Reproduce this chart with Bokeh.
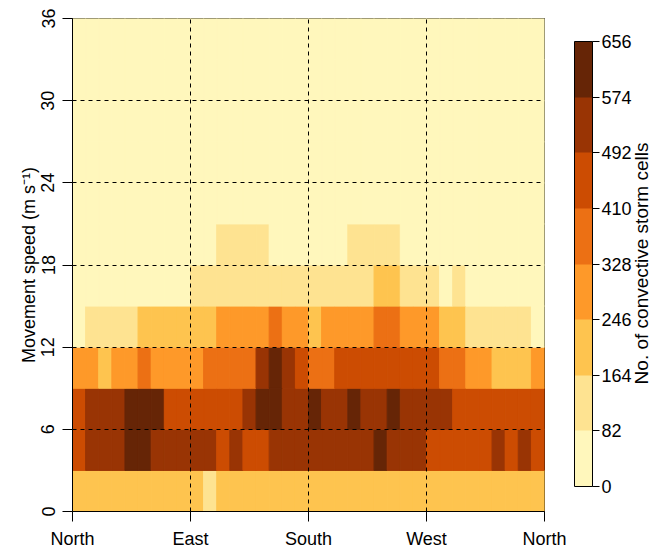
import math
from bokeh.plotting import figure
from bokeh.layouts import row
from bokeh.models import (LinearColorMapper, ColorBar, FixedTicker, Range1d, Label,
                          ColumnDataSource)
from bokeh.transform import transform
from bokeh.embed import file_html
from bokeh.resources import INLINE

# ---- data -------------------------------------------------------------
direction_edges = list(range(0, 370, 10))      # movement direction bins (deg)
speed_edges = list(range(0, 39, 3))            # movement speed bins (m/s)

direction_ticks = [0, 90, 180, 270, 360]
direction_labels = ["North", "East", "South", "West", "North"]
speed_ticks = [0, 6, 12, 18, 24, 30, 36]
colorbar_ticks = [0, 82, 164, 246, 328, 410, 492, 574, 656]
colorbar_title = "No. of convective storm cells"

speed_0_3 = [205, 212, 218, 221, 214, 209, 203, 211, 216, 208, 148, 219, 226, 231, 224, 229, 233, 227,
             222, 228, 220, 217, 214, 212, 219, 224, 227, 230, 225, 218, 213, 210, 207, 214, 210, 206]
speed_3_6 = [455, 540, 552, 548, 612, 605, 545, 536, 528, 531, 522, 470, 512, 478, 486, 538, 547, 551,
             556, 560, 549, 543, 552, 598, 553, 541, 534, 482, 471, 462, 455, 448, 505, 466, 502, 459]
speed_6_9 = [462, 548, 561, 556, 620, 633, 601, 488, 476, 465, 458, 472, 484, 532, 602, 628, 566, 548,
             612, 562, 553, 596, 559, 570, 589, 563, 551, 540, 526, 487, 474, 463, 452, 445, 458, 469]
speed_9_12 = [296, 302, 238, 305, 312, 352, 318, 321, 314, 309, 356, 372, 381, 398, 521, 587, 518, 463,
              402, 389, 421, 438, 447, 452, 449, 441, 432, 418, 384, 352, 311, 278, 232, 219, 226, 262]
speed_12_15 = [74, 102, 128, 141, 152, 178, 196, 214, 225, 231, 237, 258, 274, 288, 301, 336, 312, 290,
               241, 268, 283, 295, 307, 346, 338, 318, 296, 271, 232, 198, 158, 141, 126, 110, 96, 72]
speed_15_18 = [38, 42, 47, 52, 58, 63, 68, 73, 78, 88, 96, 104, 112, 118, 125, 131, 136, 139,
               142, 146, 150, 155, 161, 172, 168, 152, 131, 98, 70, 86, 66, 58, 51, 45, 40, 36]
speed_18_21 = [12, 15, 18, 22, 27, 33, 40, 47, 55, 62, 70, 86, 94, 101, 92, 78, 71, 65,
               61, 68, 76, 88, 97, 103, 91, 74, 63, 52, 44, 36, 29, 23, 18, 14, 11, 9]
speed_21_24 = [6, 8, 10, 13, 16, 20, 24, 28, 33, 38, 42, 46, 49, 52, 54, 56, 57, 55,
               53, 51, 52, 54, 56, 55, 50, 45, 40, 34, 28, 23, 18, 14, 11, 9, 7, 6]
speed_24_27 = [3, 4, 5, 6, 8, 10, 12, 14, 17, 19, 21, 23, 25, 26, 27, 28, 28, 27,
               26, 25, 26, 27, 28, 27, 25, 22, 19, 16, 13, 10, 8, 6, 5, 4, 3, 3]
speed_27_30 = [1, 2, 2, 3, 4, 5, 6, 7, 8, 9, 10, 11, 12, 12, 13, 13, 13, 12,
               12, 11, 12, 12, 13, 12, 11, 10, 9, 8, 6, 5, 4, 3, 2, 2, 1, 1]
speed_30_33 = [0, 1, 1, 1, 2, 2, 3, 3, 4, 4, 5, 5, 5, 6, 6, 6, 6, 5,
               5, 5, 5, 6, 6, 5, 5, 4, 4, 3, 3, 2, 2, 1, 1, 1, 0, 0]
speed_33_36 = [0, 0, 0, 1, 1, 1, 1, 2, 2, 2, 2, 2, 3, 3, 3, 3, 3, 2,
               2, 2, 2, 3, 3, 2, 2, 2, 2, 1, 1, 1, 1, 0, 0, 0, 0, 0]

rows = [speed_0_3, speed_3_6, speed_6_9, speed_9_12, speed_12_15, speed_15_18,
        speed_18_21, speed_21_24, speed_24_27, speed_27_30, speed_30_33, speed_33_36]

palette = ['#fff7bc', '#fee391', '#fec44f', '#fe9929', '#ec7014', '#cc4c02', '#993404', '#662506']

# ---- build table ------------------------------------------------------
left, right, bottom, top, count = [], [], [], [], []
for i, r in enumerate(rows):
    for j, c in enumerate(r):
        left.append(direction_edges[j])
        right.append(direction_edges[j + 1])
        bottom.append(speed_edges[i])
        top.append(speed_edges[i + 1])
        count.append(c)
source = ColumnDataSource(dict(left=left, right=right, bottom=bottom, top=top, count=count))

FONT = "Liberation Sans"

mapper = LinearColorMapper(palette=palette, low=0, high=656)

# ---- main heat map ------------------------------------------------------
p = figure(width=568, height=551, x_range=Range1d(0, 360), y_range=Range1d(0, 36),
           output_backend="svg", toolbar_location=None,
           min_border_left=72, min_border_right=24, min_border_top=18, min_border_bottom=38)

p.quad(left="left", right="right", bottom="bottom", top="top", source=source,
       fill_color=transform("count", mapper), line_color=transform("count", mapper),
       line_width=1)

p.outline_line_color = "black"
p.outline_line_width = 1
p.outline_line_alpha = 1
p.background_fill_color = "white"
p.border_fill_color = "white"

# grid (dashed, on top)
p.xgrid.ticker = FixedTicker(ticks=direction_ticks[1:-1])
p.ygrid.ticker = FixedTicker(ticks=speed_ticks[1:-1])
for g in (p.xgrid[0], p.ygrid[0]):
    g.grid_line_color = "black"
    g.grid_line_dash = "4 4"
    g.grid_line_width = 1
    g.level = "overlay"

# axes
p.xaxis.ticker = FixedTicker(ticks=direction_ticks)
p.xaxis.major_label_overrides = {t: l for t, l in zip(direction_ticks, direction_labels)}
p.yaxis.ticker = FixedTicker(ticks=speed_ticks)
p.yaxis.major_label_orientation = "vertical"
p.yaxis.axis_label = "Movement speed (m s\u207b\u00b9)"
for ax in (p.xaxis[0], p.yaxis[0]):
    ax.axis_line_color = "black"
    ax.major_tick_line_color = "black"
    ax.major_tick_in = 0
    ax.major_tick_out = 10
    ax.minor_tick_line_color = None
    ax.major_label_text_font = FONT
    ax.major_label_text_font_size = "18px"
    ax.major_label_text_color = "black"
    ax.axis_label_text_font = FONT
    ax.axis_label_text_font_size = "18px"
    ax.axis_label_text_font_style = "normal"
    ax.axis_label_text_color = "black"
p.xaxis.major_label_standoff = 7
p.yaxis.major_label_standoff = 8
p.yaxis.axis_label_standoff = 0

# ---- right strip: colour bar and its title ------------------------------
p2 = figure(width=84, height=551, x_range=Range1d(0, 1), y_range=Range1d(0, 1),
            output_backend="svg", toolbar_location=None, min_border=0,
            x_axis_type=None, y_axis_type=None)
p2.outline_line_color = None
p2.background_fill_color = "white"
p2.border_fill_color = "white"

cb = ColorBar(color_mapper=mapper, ticker=FixedTicker(ticks=colorbar_ticks),
              location=(6, 25), width=18, height=445, padding=0, margin=0,
              bar_line_color="black", major_tick_line_color="black",
              major_tick_in=0, major_tick_out=7, label_standoff=2,
              major_label_text_font=FONT, major_label_text_font_size="18px",
              major_label_text_color="black", background_fill_color=None,
              border_line_color=None)
p2.add_layout(cb, "center")

p2.add_layout(Label(x=73, y=248, x_units="screen", y_units="screen",
                    text=colorbar_title, angle=math.pi / 2,
                    text_align="center", text_baseline="middle",
                    text_font=FONT, text_font_size="19px", text_color="black"))

layout = row(p, p2, spacing=0)

open("out.html", "w").write(file_html(layout, INLINE))
